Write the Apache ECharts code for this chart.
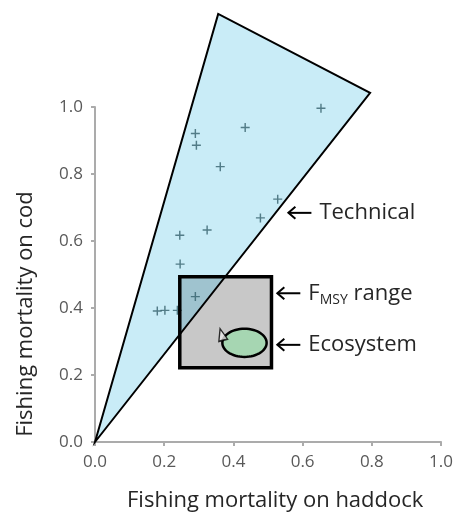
<!DOCTYPE html>
<html>
<head>
<meta charset="utf-8">
<script src="https://cdn.jsdelivr.net/npm/echarts@6/dist/echarts.min.js"></script>
<style>
  html, body { margin: 0; padding: 0; background: #fff; }
  #chart { width: 456px; height: 519px; }
</style>
</head>
<body>
<div id="chart"></div>
<script>
// 刻度
var xTicks = [0, 0.2, 0.4, 0.6, 0.8, 1.0]
var yTicks = [0, 0.2, 0.4, 0.6, 0.8, 1.0]

// Technical 三角形顶点 (haddock, cod)
var techHaddock = [0, 0.356, 0.795]
var techCod = [0, 1.278, 1.042]

// FMSY range 矩形
var fmsyHaddock = [0.245, 0.51]
var fmsyCod = [0.222, 0.493]

// Ecosystem 椭圆 (中心, 半径)
var ecoCentre = [0.432, 0.296]
var ecoRadius = [0.064, 0.042]
var ecoFlag = [0.366, 0.321]

// 观测点
var obsHaddock = [0.653, 0.434, 0.290, 0.293, 0.362, 0.528, 0.478, 0.324, 0.245, 0.246, 0.290, 0.180, 0.202, 0.238]
var obsCod = [0.996, 0.939, 0.921, 0.886, 0.822, 0.725, 0.669, 0.633, 0.617, 0.531, 0.434, 0.391, 0.393, 0.393]

// 标注 (箭头尖端位置)
var noteText = ['Technical', '{t|F}{s|MSY}{t| range}', 'Ecosystem']
var noteHaddock = [0.556, 0.524, 0.524]
var noteCod = [0.684, 0.444, 0.290]

var FONT = '"Open Sans", sans-serif'
var chart = echarts.init(document.getElementById('chart'))

function pairs(xs, ys) {
  return xs.map(function (x, i) { return [x, ys[i]] })
}

// 多边形按矩形裁剪 (Sutherland-Hodgman), 像素坐标
function clipToRect(pts, x0, y0, x1, y1) {
  var edges = [
    function (p) { return p[0] >= x0 }, function (p) { return p[0] <= x1 },
    function (p) { return p[1] >= y0 }, function (p) { return p[1] <= y1 }
  ]
  var cuts = [
    function (a, b) { var t = (x0 - a[0]) / (b[0] - a[0]); return [x0, a[1] + t * (b[1] - a[1])] },
    function (a, b) { var t = (x1 - a[0]) / (b[0] - a[0]); return [x1, a[1] + t * (b[1] - a[1])] },
    function (a, b) { var t = (y0 - a[1]) / (b[1] - a[1]); return [a[0] + t * (b[0] - a[0]), y0] },
    function (a, b) { var t = (y1 - a[1]) / (b[1] - a[1]); return [a[0] + t * (b[0] - a[0]), y1] }
  ]
  var out = pts
  for (var e = 0; e < 4; e++) {
    var input = out
    out = []
    for (var i = 0; i < input.length; i++) {
      var cur = input[i], prev = input[(i + input.length - 1) % input.length]
      var inCur = edges[e](cur), inPrev = edges[e](prev)
      if (inCur) {
        if (!inPrev) out.push(cuts[e](prev, cur))
        out.push(cur)
      } else if (inPrev) {
        out.push(cuts[e](prev, cur))
      }
    }
  }
  return out
}

function techPoints(api) {
  return pairs(techHaddock, techCod).map(function (p) { return api.coord(p) })
}

function fmsyBox(api) {
  var a = api.coord([fmsyHaddock[0], fmsyCod[1]])
  var b = api.coord([fmsyHaddock[1], fmsyCod[0]])
  return { x: a[0], y: a[1], width: b[0] - a[0], height: b[1] - a[1] }
}

chart.setOption({
  animation: false,
  grid: { left: 95, right: 14, top: 107, bottom: 77 },
  xAxis: {
    type: 'value', min: 0, max: 1, interval: 0.2,
    axisLine: { lineStyle: { color: '#ababab', width: 2 } },
    axisTick: { show: true, length: 4, lineStyle: { color: '#ababab', width: 2 } },
    splitLine: { show: false },
    axisLabel: {
      margin: 12, color: '#595959', fontSize: 17, fontFamily: FONT,
      formatter: function (v) { return v.toFixed(1) },
      customValues: xTicks
    }
  },
  yAxis: {
    type: 'value', min: 0, max: 1, interval: 0.2,
    axisLine: { show: true, lineStyle: { color: '#ababab', width: 2 } },
    axisTick: { show: true, length: 4, lineStyle: { color: '#ababab', width: 2 } },
    splitLine: { show: false },
    axisLabel: {
      margin: 12, color: '#595959', fontSize: 17, fontFamily: FONT,
      formatter: function (v) { return v.toFixed(1) },
      customValues: yTicks
    }
  },
  graphic: [
    {
      type: 'text', left: 127, top: 490, silent: true,
      style: { text: 'Fishing mortality on haddock', fill: '#262626', fontSize: 22, fontFamily: FONT }
    },
    {
      type: 'text', x: 26, y: 314, rotation: Math.PI / 2, silent: true,
      style: { text: 'Fishing mortality on cod', fill: '#262626', fontSize: 22, fontFamily: FONT, align: 'center', verticalAlign: 'middle' }
    }
  ],
  series: [
    {
      // 底层填充: Technical 三角形, FMSY 矩形, 两者重叠部分
      type: 'custom', z: 2, clip: false, silent: true,
      data: [[0, 0]],
      renderItem: function (params, api) {
        var tri = techPoints(api)
        var box = fmsyBox(api)
        var overlap = clipToRect(tri, box.x, box.y, box.x + box.width, box.y + box.height)
        return {
          type: 'group',
          children: [
            { type: 'polygon', shape: { points: tri }, style: { fill: '#c9ecf7' } },
            { type: 'rect', shape: box, style: { fill: '#c8c8c8' } },
            { type: 'polygon', shape: { points: overlap }, style: { fill: '#9fc3cf' } },
            { type: 'polygon', shape: { points: tri }, style: { fill: null, stroke: '#000', lineWidth: 2 } }
          ]
        }
      }
    },
    {
      type: 'scatter', z: 3, silent: true,
      symbol: 'path://M4.2,0H5.8V4.2H10V5.8H5.8V10H4.2V5.8H0V4.2H4.2Z',
      symbolSize: 9,
      itemStyle: { color: '#34606c' },
      data: pairs(obsHaddock, obsCod)
    },
    {
      // FMSY range 边框
      type: 'custom', z: 4, silent: true,
      data: [[0, 0]],
      renderItem: function (params, api) {
        return {
          type: 'rect',
          shape: fmsyBox(api),
          style: { fill: null, stroke: '#000', lineWidth: 3.5 }
        }
      }
    },
    {
      // Ecosystem
      type: 'custom', z: 5, silent: true,
      data: [[0, 0]],
      renderItem: function (params, api) {
        var c = api.coord(ecoCentre)
        var r = api.size(ecoRadius)
        var pts = []
        for (var i = 0; i < 60; i++) {
          var t = i / 60 * Math.PI * 2
          pts.push([c[0] + r[0] * Math.cos(t), c[1] + r[1] * Math.sin(t)])
        }
        return {
          type: 'polygon',
          shape: { points: pts },
          style: { fill: '#a6d6b2', stroke: '#000', lineWidth: 2.5 }
        }
      }
    },
    {
      type: 'scatter', z: 5, silent: true,
      symbol: 'triangle', symbolSize: [9, 12], symbolRotate: 15,
      itemStyle: { color: '#e8e8e8', borderColor: '#000', borderWidth: 1.5 },
      data: [ecoFlag]
    },
    {
      // 标注
      type: 'custom', z: 6, silent: true, clip: false,
      data: noteText.map(function (t, i) { return [noteHaddock[i], noteCod[i]] }),
      renderItem: function (params, api) {
        var p = api.coord([api.value(0), api.value(1)])
        var x = p[0], y = p[1]
        return {
          type: 'group',
          children: [
            { type: 'line', shape: { x1: x + 1, y1: y, x2: x + 24, y2: y }, style: { stroke: '#000', lineWidth: 2 } },
            { type: 'polyline', shape: { points: [[x + 8, y - 6], [x + 1, y], [x + 8, y + 6]] }, style: { stroke: '#000', lineWidth: 2, fill: null } },
            {
              type: 'text', x: x + 32, y: y,
              style: {
                text: noteText[params.dataIndex], fill: '#262626', fontSize: 22, fontFamily: FONT,
                verticalAlign: 'middle',
                rich: {
                  t: { fontSize: 22, fontFamily: FONT, fill: '#262626' },
                  s: { fontSize: 14, fontFamily: FONT, fill: '#262626', padding: [14, 0, 0, 0] }
                }
              }
            }
          ]
        }
      }
    }
  ]
})
</script>
</body>
</html>
